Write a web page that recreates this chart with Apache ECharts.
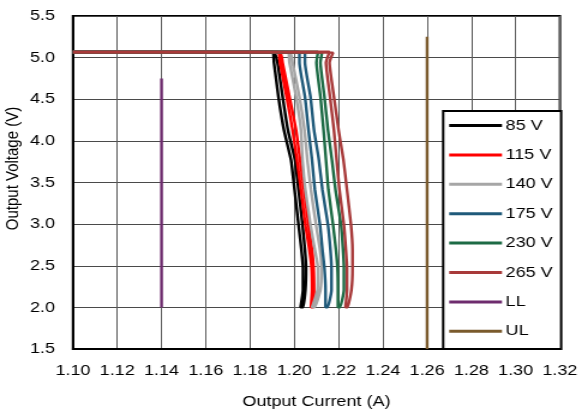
<!DOCTYPE html>
<html>
<head>
<meta charset="utf-8">
<script src="https://cdn.jsdelivr.net/npm/echarts@6/dist/echarts.min.js"></script>
<style>
html,body{margin:0;padding:0;background:#fff;overflow:hidden;}
#wrap{width:579px;height:413px;overflow:hidden;}
#chart{width:482.5px;height:413px;transform:scaleX(1.2);transform-origin:0 0;}
</style>
</head>
<body>
<div id="wrap"><div id="chart"></div></div>
<script>
// Voltage levels (V) at which the current traces were read
var vLevels = [5.06, 4.94, 4.53, 4.13, 3.77, 3.41, 2.99, 2.69, 2.47, 2.21, 2.00];
// Output current (A): down-going trace (L) and up-going trace (R) per input voltage
var i85L  = [1.1899, 1.1908, 1.1928, 1.1953, 1.1985, 1.2001, 1.2019, 1.2032, 1.2039, 1.2039, 1.2028];
var i85R  = [1.1908, 1.1924, 1.1947, 1.1971, 1.2003, 1.2019, 1.2037, 1.2048, 1.2053, 1.2050, 1.2039];
var i115L = [1.1924, 1.1935, 1.1965, 1.1992, 1.2012, 1.2030, 1.2050, 1.2068, 1.2078, 1.2080, 1.2075];
var i115R = [1.1935, 1.1947, 1.1978, 1.2008, 1.2026, 1.2044, 1.2064, 1.2080, 1.2087, 1.2089, 1.2084];
var i140L = [1.1969, 1.1978, 1.2008, 1.2030, 1.2037, 1.2050, 1.2073, 1.2093, 1.2107, 1.2105, 1.2080];
var i140R = [1.1980, 1.1992, 1.2023, 1.2046, 1.2059, 1.2075, 1.2098, 1.2116, 1.2123, 1.2118, 1.2091];
var i175L = [1.2023, 1.2023, 1.2048, 1.2064, 1.2080, 1.2093, 1.2116, 1.2127, 1.2136, 1.2141, 1.2141];
var i175R = [1.2048, 1.2048, 1.2073, 1.2089, 1.2111, 1.2127, 1.2152, 1.2163, 1.2168, 1.2168, 1.2150];
var i230L = [1.2107, 1.2100, 1.2118, 1.2132, 1.2143, 1.2154, 1.2175, 1.2188, 1.2195, 1.2197, 1.2197];
var i230R = [1.2125, 1.2118, 1.2136, 1.2152, 1.2170, 1.2186, 1.2211, 1.2220, 1.2224, 1.2224, 1.2206];
var i265L = [1.2159, 1.2143, 1.2161, 1.2179, 1.2191, 1.2204, 1.2224, 1.2233, 1.2238, 1.2238, 1.2231];
var i265R = [1.2175, 1.2159, 1.2179, 1.2200, 1.2222, 1.2238, 1.2256, 1.2263, 1.2263, 1.2258, 1.2240];
// Regulated voltage on the flat part and start current
var vReg = [5.07, 5.06];
var iStart = 1.10;
// Limit lines
var llLine = [[1.14, 2.00], [1.14, 4.75]];
var ulLine = [[1.26, 1.50], [1.26, 5.25]];

var names = ['85 V', '115 V', '140 V', '175 V', '230 V', '265 V', 'LL', 'UL'];
var colors = ['#000000', '#ff0000', '#a6a6a6', '#1f5a7a', '#1d6b45', '#a83a3a', '#6e2c6e', '#7a5a2c'];
var xTicks = [1.10, 1.32, 0.02];
var yTicks = [1.5, 5.5, 0.5];

function loop(L, R) {
  var d = [[iStart, vReg[0]]];
  for (var k = 0; k < L.length; k++) d.push([L[k], k === 0 ? vReg[0] : vLevels[k]]);
  for (var k = R.length - 1; k >= 0; k--) d.push([R[k], k === 0 ? vReg[1] : vLevels[k]]);
  d.push([iStart, vReg[1]]);
  return d;
}
var traces = [loop(i85L, i85R), loop(i115L, i115R), loop(i140L, i140R),
              loop(i175L, i175R), loop(i230L, i230R), loop(i265L, i265R), llLine, ulLine];

var series = traces.map(function (d, i) {
  return {
    name: names[i], type: 'line', data: d, symbol: 'none', smooth: i < 6 ? 0.15 : false,
    lineStyle: { color: colors[i], width: 2.4 }, itemStyle: { color: colors[i] },
    animation: false, z: 3
  };
});

var chart = echarts.init(document.getElementById('chart'), null, { renderer: 'canvas' });
chart.setOption({
  animation: false,
  backgroundColor: '#ffffff',
  textStyle: { fontFamily: 'Liberation Sans, Arial, sans-serif' },
  grid: { left: 60.8, top: 16, width: 405.8, height: 333, show: true, borderColor: '#000', borderWidth: 2, backgroundColor: 'transparent', containLabel: false, outerBoundsMode: 'none' },
  xAxis: {
    type: 'value', min: xTicks[0], max: xTicks[1], interval: xTicks[2],
    name: 'Output Current (A)', nameLocation: 'middle', nameGap: 45, nameMoveOverlap: false,
    nameTextStyle: { fontSize: 15, color: '#000', fontFamily: 'Liberation Sans' },
    axisLine: { show: true, lineStyle: { color: '#000', width: 2 } },
    axisTick: { show: false },
    axisLabel: { fontSize: 15, color: '#000', margin: 14, fontFamily: 'Liberation Sans', formatter: function (v) { return v.toFixed(2); } },
    splitLine: { show: true, lineStyle: { color: '#5a5a5a', width: 1 } }
  },
  yAxis: {
    type: 'value', min: yTicks[0], max: yTicks[1], interval: yTicks[2],
    name: 'Output Voltage (V)', nameLocation: 'middle', nameGap: 42, nameMoveOverlap: false,
    nameTextStyle: { fontSize: 15, color: '#000', fontFamily: 'Liberation Sans', padding: [0, 0, 0, 28] },
    axisLine: { show: true, lineStyle: { color: '#000', width: 2 } },
    axisTick: { show: false },
    axisLabel: { fontSize: 15, color: '#000', margin: 15, fontFamily: 'Liberation Sans', formatter: function (v) { return v.toFixed(1); } },
    splitLine: { show: true, lineStyle: { color: '#4a4a4a', width: 1 } }
  },
  graphic: [{
    type: 'rect', left: 368.3, top: 110, z: 5,
    shape: { width: 98.3, height: 238 },
    style: { fill: '#fff', stroke: '#000', lineWidth: 2 }
  }],
  legend: {
    orient: 'vertical', left: 368.3, top: 110, z: 6,
    padding: [8, 4, 7, 6], itemWidth: 44, itemHeight: 16, itemGap: 14.4,
    textStyle: { fontSize: 15, color: '#000', fontFamily: 'Liberation Sans', padding: [0, 0, 0, -2] },
    data: names.map(function (n) { return { name: n, icon: 'path://M0,0 L44,0 L44,3 L0,3 Z' }; })
  },
  series: series
});
</script>
</body>
</html>
